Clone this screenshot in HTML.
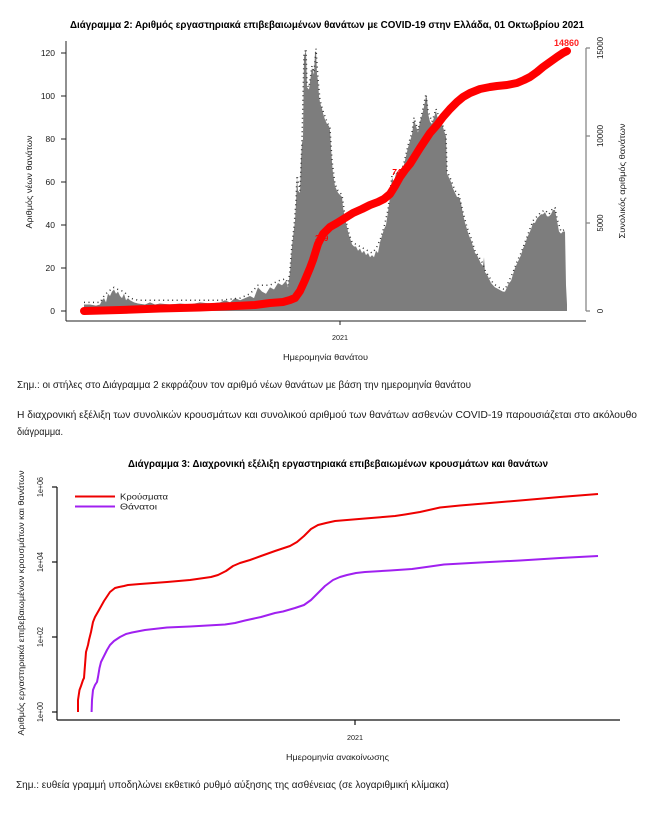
<!DOCTYPE html>
<html>
<head>
<meta charset="utf-8">
<style>
  html,body{margin:0;padding:0;background:#fff;}
  svg{display:block;}
  text{font-family:"Liberation Sans","DejaVu Sans",sans-serif;fill:#1a1a1a;}
  .b{font-weight:bold;fill:#000;}
</style>
</head>
<body>
<svg width="660" height="822" viewBox="0 0 660 822" xmlns="http://www.w3.org/2000/svg">
  <rect x="0" y="0" width="660" height="822" fill="#fff"/>

  <!-- ============ CHART 2 (top) ============ -->
  <text class="b" x="70" y="28" font-size="10.5" textLength="514" lengthAdjust="spacingAndGlyphs">Διάγραμμα 2: Αριθμός εργαστηριακά επιβεβαιωμένων θανάτων με COVID-19 στην Ελλάδα, 01 Οκτωβρίου 2021</text>

  <!-- bars envelope -->
  <g transform="translate(0,311) scale(1,-2.15)">
    <polygon fill="#7d7d7d" points="84,0 84,3 90,3 96,2.5 100,3 102,5 104,6 106,4 108,8 110,7 112,9 114,10 116,8 118,9 120,7 122,6 124,8 126,5 128,6 130,5 134,4 138,3.5 145,3 150,4 155,3 160,3.5 170,3 180,3.5 190,3 200,4 210,3.5 220,4 225,5 230,4 235,6 240,5 245,6 250,7 254,6 258,11 262,9 266,8 270,11 274,10 278,13 282,12 286,14 288,11 290,18 292,30 294,38 295,42 296,50 297,62 298,56 300,55 301,70 302,78 303,80 304,118 305,120 306,121 307,104 309,103 311,110 312,113 314,110 315,120 316,121 317,110 318,107 319,100 320,97 322,94 323,92 325,89 327,87 329,86 330,84 331,76 332,69 333,64 335,58 337,56 338,55 340,54 342,53 343,48 345,43 347,39 349,35 350,34 352,31 354,30 356,30 358,28 360,29 362,27 364,28 366,26 368,27 370,25 372,26 374,25 376,28 378,27 380,32 382,35 384,38 386,40 388,46 390,53 392,62 394,60 396,64 398,65 400,62 402,66 404,68 406,72 408,76 410,79 412,82 414,89 416,86 418,83 420,88 422,91 424,95 426,100 427,99 428,92 430,88 432,87 434,90 436,93 438,89 440,88 442,87 444,84 446,81 447,64 449,62 451,60 453,57 455,55 457,53 459,53 461,50 463,45 465,41 467,38 469,35 471,33 473,30 475,27 477,26 479,24 481,22 483,21 484,25 485,18 487,17 489,15 491,13 493,12 495,11 497,10.5 499,10 501,9.5 503,9 505,9 507,11 509,13 511,14 513,17 515,20 517,22 519,24 521,26 523,29 525,31 527,34 529,36 531,38 533,41 535,41 537,43 539,44 541,45 543,45 545,46 547,44 549,44 551,45 553,47 555,47 557,42 559,37 561,36 563,37 565,37 566,12 567,3 567,0"/>
    <!-- speckle of value labels -->
    <polyline fill="none" stroke="#333" stroke-width="1.5" stroke-dasharray="1 3.5" vector-effect="non-scaling-stroke" points="84,4 100,4 104,7 108,9 114,11 118,10 124,9 130,6 138,5 160,5 200,5 220,5 240,6 250,8 258,12 270,12 278,14 286,15 288,12 290,19 292,31 294,39 296,51 297,63 300,56 302,79 304,119 306,122 307,105 309,104 312,114 314,111 316,122 318,108 320,98 323,93 327,88 330,85 332,70 335,59 338,56 342,54 345,44 349,36 352,32 356,31 360,30 364,29 368,28 372,27 376,29 380,33 384,39 388,47 392,63 396,65 400,63 404,69 408,77 412,83 414,90 418,84 422,92 426,101 428,93 432,88 436,94 440,89 444,85 446,82 447,65 451,61 455,56 459,54 463,46 467,39 471,34 475,28 479,25 483,22 485,19 489,16 493,13 497,11.5 501,10.5 505,10 509,14 513,18 517,23 521,27 525,32 529,37 533,42 537,44 541,46 545,47 549,45 553,48 555,48 557,43 561,37 565,38"/>
  </g>

  <!-- cumulative red line -->
  <polyline fill="none" stroke="#ff0000" stroke-width="8" stroke-linecap="round" stroke-linejoin="round" points="84,311 120,310 160,308.5 200,307.5 235,306 255,305 270,303 283,302 290,300 295,298 300,291 305,280 310,268 313,260 318,244 323,234 330,227 337,223 345,218 353,213 362,209 370,205 378,202 384,199 390,194 395,186 400,177 405,170 410,164 420,148 430,133 437,125 443,117 450,109 457,102 463,97 470,93 480,89 490,87 497,86 507,85 517,83 524,80 530,77 537,72 543,67 550,62 557,57 563,53 567,51"/>
  <text x="315" y="241" font-size="8" font-weight="bold" style="fill:#ff0000">379</text>
  <text x="392" y="175" font-size="8" font-weight="bold" style="fill:#ff0000;font-style:italic">746</text>
  <text x="554" y="46" font-size="9" font-weight="bold" style="fill:#ff2020" textLength="25" lengthAdjust="spacingAndGlyphs">14860</text>

  <!-- left axis -->
  <g stroke="#222" stroke-width="1">
    <line x1="66" y1="41" x2="66" y2="321"/>
    <line x1="66" y1="321" x2="586" y2="321"/>
    <line x1="61" y1="311" x2="66" y2="311"/>
    <line x1="61" y1="268" x2="66" y2="268"/>
    <line x1="61" y1="225" x2="66" y2="225"/>
    <line x1="61" y1="182" x2="66" y2="182"/>
    <line x1="61" y1="139" x2="66" y2="139"/>
    <line x1="61" y1="96" x2="66" y2="96"/>
    <line x1="61" y1="53" x2="66" y2="53"/>
    <line x1="340" y1="321" x2="340" y2="325"/>
  </g>
  <g font-size="8.5" text-anchor="end">
    <text x="55" y="314">0</text>
    <text x="55" y="271">20</text>
    <text x="55" y="228">40</text>
    <text x="55" y="185">60</text>
    <text x="55" y="142">80</text>
    <text x="55" y="99">100</text>
    <text x="55" y="56">120</text>
  </g>
  <text x="332" y="340" font-size="7.5" textLength="16" lengthAdjust="spacingAndGlyphs">2021</text>
  <text transform="translate(32,182) rotate(-90)" text-anchor="middle" font-size="8.5" textLength="93" lengthAdjust="spacingAndGlyphs">Αριθμός νέων θανάτων</text>
  <text x="283" y="360" font-size="8.5" textLength="85" lengthAdjust="spacingAndGlyphs">Ημερομηνία θανάτου</text>

  <!-- right axis -->
  <g stroke="#888" stroke-width="1.3">
    <line x1="586" y1="48" x2="586" y2="311"/>
    <line x1="586" y1="48" x2="590" y2="48"/>
    <line x1="586" y1="136" x2="590" y2="136"/>
    <line x1="586" y1="223" x2="590" y2="223"/>
    <line x1="586" y1="311" x2="590" y2="311"/>
  </g>
  <g font-size="8" text-anchor="middle">
    <text transform="translate(603,311) rotate(-90)">0</text>
    <text transform="translate(603,223) rotate(-90)" textLength="17" lengthAdjust="spacingAndGlyphs">5000</text>
    <text transform="translate(603,136) rotate(-90)" textLength="22" lengthAdjust="spacingAndGlyphs">10000</text>
    <text transform="translate(603,48) rotate(-90)" textLength="22" lengthAdjust="spacingAndGlyphs">15000</text>
  </g>
  <text transform="translate(625,181) rotate(-90)" text-anchor="middle" font-size="8.5" textLength="115" lengthAdjust="spacingAndGlyphs">Συνολικός αριθμός θανάτων</text>

  <!-- ============ TEXT ============ -->
  <text x="17" y="388" font-size="10" textLength="454" lengthAdjust="spacingAndGlyphs">Σημ.: οι στήλες στο Διάγραμμα 2 εκφράζουν τον αριθμό νέων θανάτων με βάση την ημερομηνία θανάτου</text>
  <text x="17" y="418" font-size="10" textLength="620" lengthAdjust="spacingAndGlyphs">Η διαχρονική εξέλιξη των συνολικών κρουσμάτων και συνολικού αριθμού των θανάτων ασθενών COVID-19 παρουσιάζεται στο ακόλουθο</text>
  <text x="17" y="435" font-size="10" textLength="46" lengthAdjust="spacingAndGlyphs">διάγραμμα.</text>

  <!-- ============ CHART 3 ============ -->
  <text class="b" x="128" y="467" font-size="10" textLength="420" lengthAdjust="spacingAndGlyphs">Διάγραμμα 3: Διαχρονική εξέλιξη εργαστηριακά επιβεβαιωμένων κρουσμάτων και θανάτων</text>

  <g stroke="#111" stroke-width="1.2">
    <line x1="57" y1="487" x2="57" y2="720"/>
    <line x1="57" y1="720" x2="620" y2="720"/>
    <line x1="52" y1="487" x2="57" y2="487"/>
    <line x1="52" y1="562" x2="57" y2="562"/>
    <line x1="52" y1="637" x2="57" y2="637"/>
    <line x1="52" y1="712" x2="57" y2="712"/>
    <line x1="355" y1="720" x2="355" y2="725"/>
  </g>
  <g font-size="8" text-anchor="middle">
    <text transform="translate(43,487) rotate(-90)" textLength="20" lengthAdjust="spacingAndGlyphs">1e+06</text>
    <text transform="translate(43,562) rotate(-90)" textLength="20" lengthAdjust="spacingAndGlyphs">1e+04</text>
    <text transform="translate(43,637) rotate(-90)" textLength="20" lengthAdjust="spacingAndGlyphs">1e+02</text>
    <text transform="translate(43,712) rotate(-90)" textLength="20" lengthAdjust="spacingAndGlyphs">1e+00</text>
  </g>
  <text transform="translate(24,603) rotate(-90)" text-anchor="middle" font-size="8.5" textLength="265" lengthAdjust="spacingAndGlyphs">Αριθμός εργαστηριακά επιβεβαιωμένων κρουσμάτων και θανάτων</text>

  <!-- legend -->
  <line x1="75" y1="496.5" x2="115" y2="496.5" stroke="#ee0000" stroke-width="2"/>
  <line x1="75" y1="506.5" x2="115" y2="506.5" stroke="#a020f0" stroke-width="2"/>
  <text x="120" y="499.5" font-size="8" textLength="48" lengthAdjust="spacingAndGlyphs">Κρούσματα</text>
  <text x="120" y="509.5" font-size="8" textLength="37" lengthAdjust="spacingAndGlyphs">Θάνατοι</text>

  <!-- curves -->
  <polyline fill="none" stroke="#ee0000" stroke-width="2" stroke-linejoin="round" points="78,712 78,700 79.5,690 81,686 83,680 84,678 85,665 86,652 88,645 89,640 91,632 93,622 95,617 99,610 104,601 110,592 115,588 119,587 124,586 128,585 140,584 167,582 190,580 211,577 218,575 226,571 233,566 240,563 250,560 261,556 275,551 290,546 297,542 304,536 311,529 318,525 326,523 335,521 347,520 365,518.5 383,517 395,516 405,514.5 420,512 440,507.5 460,505.5 490,503 520,500.5 560,497 598,494"/>
  <polyline fill="none" stroke="#a020f0" stroke-width="2" stroke-linejoin="round" points="91.6,712 92,700 93,690 95,685 97,682 98,677 99.5,668 101,662 104,656 107,650 110,645 114,641 120,637 126,634 132,632.5 145,630 167,627.5 190,626.5 225,624.5 235,623 245,620.5 261,617 275,613 283,611.5 295,608 304,605 311,600 318,593 325,586 333,580 340,577 347,575 356,573 365,572 390,570.5 412,569 430,566.5 444,564.5 480,562.5 520,560.5 560,558 598,556"/>

  <text x="347" y="740" font-size="7.5" textLength="16" lengthAdjust="spacingAndGlyphs">2021</text>
  <text x="286" y="760" font-size="8.5" textLength="103" lengthAdjust="spacingAndGlyphs">Ημερομηνία ανακοίνωσης</text>

  <text x="16" y="788" font-size="10" textLength="433" lengthAdjust="spacingAndGlyphs">Σημ.: ευθεία γραμμή υποδηλώνει εκθετικό ρυθμό αύξησης της ασθένειας (σε λογαριθμική κλίμακα)</text>
</svg>
</body>
</html>
